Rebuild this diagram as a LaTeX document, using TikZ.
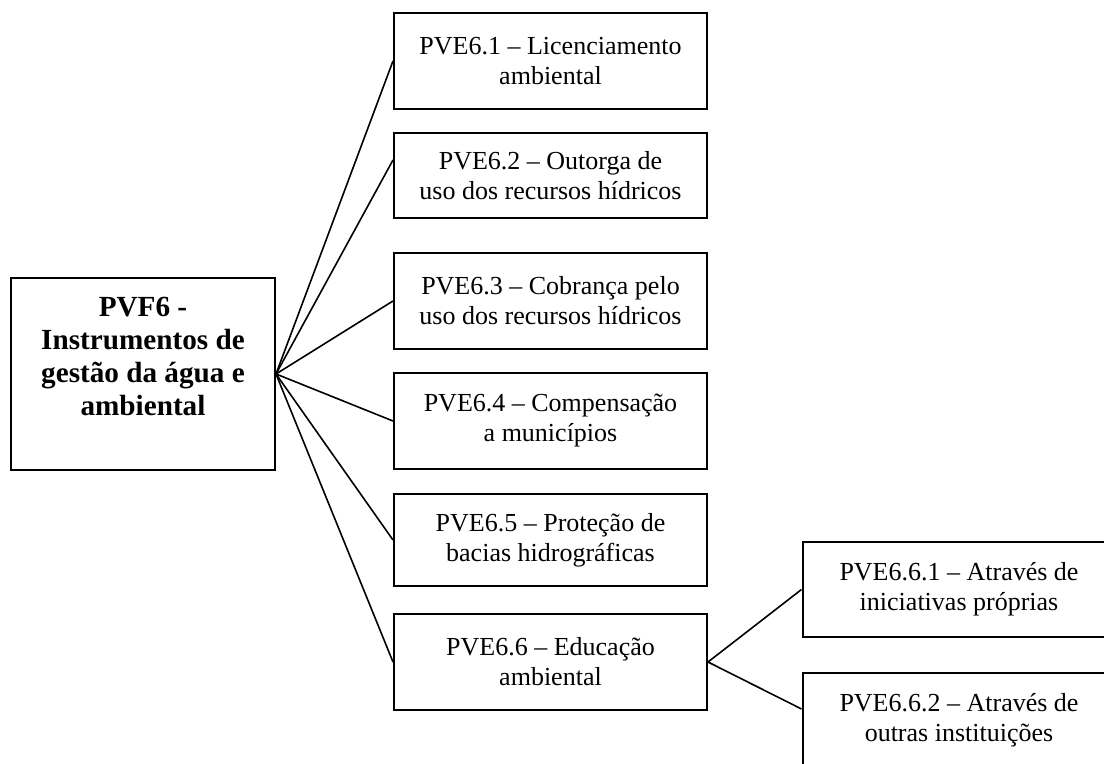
\documentclass[tikz,border=0pt]{standalone}
\usepackage{fontspec}
\setmainfont{Liberation Serif}

\begin{document}
\begin{tikzpicture}[x=0.5pt,y=-0.5pt,
 box/.style={draw=black,line width=1pt,inner sep=2pt,align=center,font=\fontsize{13}{15}\selectfont},
 sub/.style={box,minimum width=156.5pt},
 con/.style={line width=0.8pt}]
 \useasboundingbox (0,0) rectangle (1104,764);
 \node[box,minimum width=132pt,minimum height=96pt] (root) at (143,374) {};
 \node[align=center,inner sep=0pt,font=\fontsize{14.6}{16.5}\selectfont\bfseries] (roottxt) at ([yshift=9pt]root.center) {PVF6 -\\Instrumentos de\\gestão da água e\\ambiental};
 \foreach \i/\y/\h/\t in {1/61/48/{PVE6.1 – Licenciamento\\ambiental},
   2/175.5/42.5/{PVE6.2 – Outorga de\\uso dos recursos hídricos},
   3/301/48/{PVE6.3 – Cobrança pelo\\uso dos recursos hídricos},
   4/421/48/{PVE6.4 – Compensação\\a municípios},
   5/540/46/{PVE6.5 – Proteção de\\bacias hidrográficas},
   6/662/48/{PVE6.6 – Educação\\ambiental}}{
   \node[sub,minimum height=\h pt] (b\i) at (550.5,\y) {\t};
 }
 \node[sub,minimum height=47.5pt] (g1) at (959,589.5) {PVE6.6.1 – Através de\\iniciativas próprias};
 \node[sub,minimum height=47.5pt] (g2) at (959,720.5) {PVE6.6.2 – Através de\\outras instituições};
 \foreach \i in {1,3,4,5,6}
   \draw[con] (root.east) -- (b\i.west);
 \draw[con] (root.east) -- ([yshift=7.75pt]b2.west);
 \draw[con] (b6.east) -- (g1.west);
 \draw[con] (b6.east) -- ([yshift=5.75pt]g2.west);
\end{tikzpicture}
\end{document}
